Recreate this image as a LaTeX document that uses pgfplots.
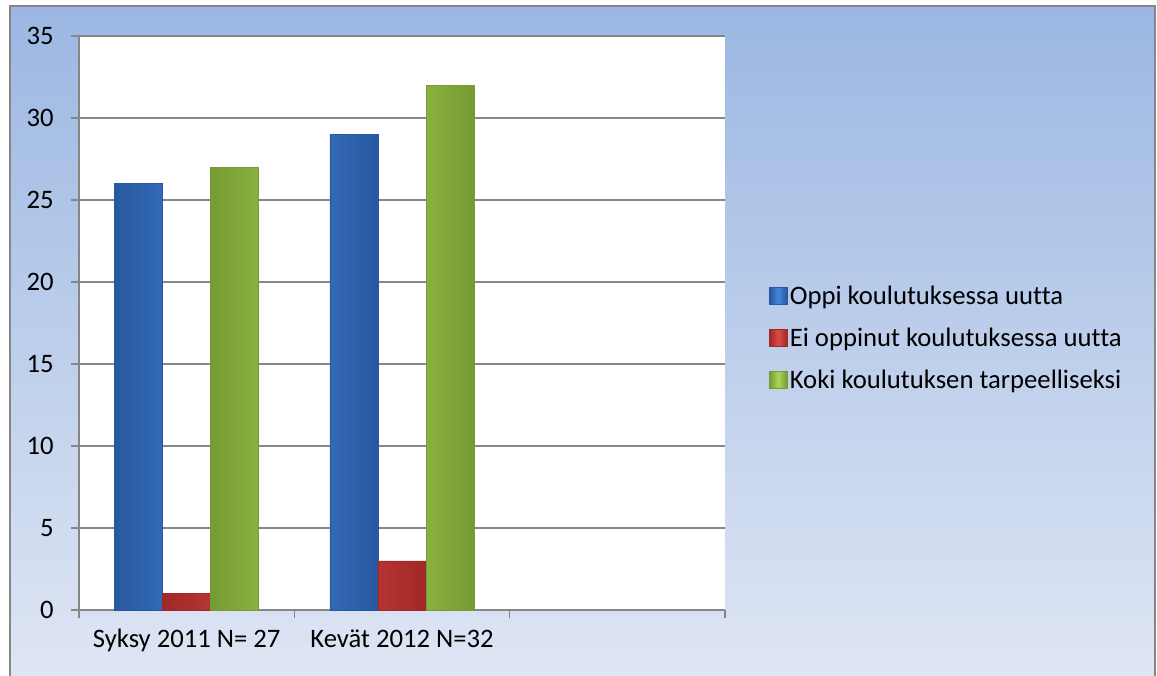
\documentclass[border=0pt]{standalone}
\usepackage{fontspec}
\setmainfont[Ligatures={NoCommon}, Contextuals={NoAlternate}, RawFeature={-liga;-clig;-calt}]{Carlito}
\usepackage{pgfplots}
\pgfplotsset{compat=1.18}
\definecolor{bgtop}{RGB}{155,183,226}
\definecolor{bgbot}{RGB}{223,230,244}
\definecolor{frame}{RGB}{134,134,134}
\definecolor{bluemid}{RGB}{70,135,220}
\definecolor{blueedge}{RGB}{40,88,160}
\definecolor{redmid}{RGB}{220,75,70}
\definecolor{rededge}{RGB}{160,40,38}
\definecolor{greenmid}{RGB}{172,214,88}
\definecolor{greenedge}{RGB}{118,155,50}
\begin{document}
\begin{tikzpicture}
\path[use as bounding box] (0,0) rectangle (867.75pt,506.25pt);
\shade[top color=bgtop, bottom color=bgbot] (7.5pt,-3pt) rectangle (866.25pt,501.75pt);
\draw[frame, line width=1.5pt] (7.5pt,-3pt) -- (7.5pt,501.75pt) -- (866.25pt,501.75pt) -- (866.25pt,-3pt);
\begin{axis}[
    at={(59.25pt,48.75pt)}, anchor=south west,
    scale only axis,
    width=484.5pt, height=430.5pt,
    xmin=0, xmax=3, ymin=0, ymax=35,
    ytick={0,5,...,35},
    xtick={0,1,2,3},
    xticklabels={},
    extra x ticks={0.5,1.5},
    extra x tick labels={Syksy 2011 N= 27,Kevät 2012 N=32},
    extra x tick style={major tick length=0pt, grid=none,
        xticklabel style={yshift=-11pt}},
    axis x line*=bottom, axis y line*=left,
    axis line style={frame, line width=0.9pt, -},
    tick style={frame, line width=0.9pt},
    tick align=outside,
    major tick length=6pt,
    ymajorgrids,
    grid style={frame, line width=0.9pt},
    axis background/.style={fill=white},
    ticklabel style={font=\fontsize{20}{24}\selectfont, text=black},
    yticklabel style={xshift=-9.5pt},
    /pgf/number format/assume math mode=true,
    ybar=0pt,
    bar width=0.223,
    legend style={at={(1.062,0.474)}, anchor=west, draw=none, fill=none,
        font=\fontsize{20}{24}\selectfont, row sep=12pt},
    legend cell align=left,
    legend image code/.code={\path[#1] (0pt,-6.5pt) rectangle (13pt,6.5pt);},
]
\addplot[draw=blueedge, left color=blueedge, right color=blueedge, middle color=bluemid] coordinates {(0.5,26) (1.5,29)};
\addlegendentry{Oppi koulutuksessa uutta}
\addplot[draw=rededge, left color=rededge, right color=rededge, middle color=redmid] coordinates {(0.5,1) (1.5,3)};
\addlegendentry{Ei oppinut koulutuksessa uutta}
\addplot[draw=greenedge, left color=greenedge, right color=greenedge, middle color=greenmid] coordinates {(0.5,27) (1.5,32)};
\addlegendentry{Koki koulutuksen tarpeelliseksi}
\end{axis}
\end{tikzpicture}
\end{document}
